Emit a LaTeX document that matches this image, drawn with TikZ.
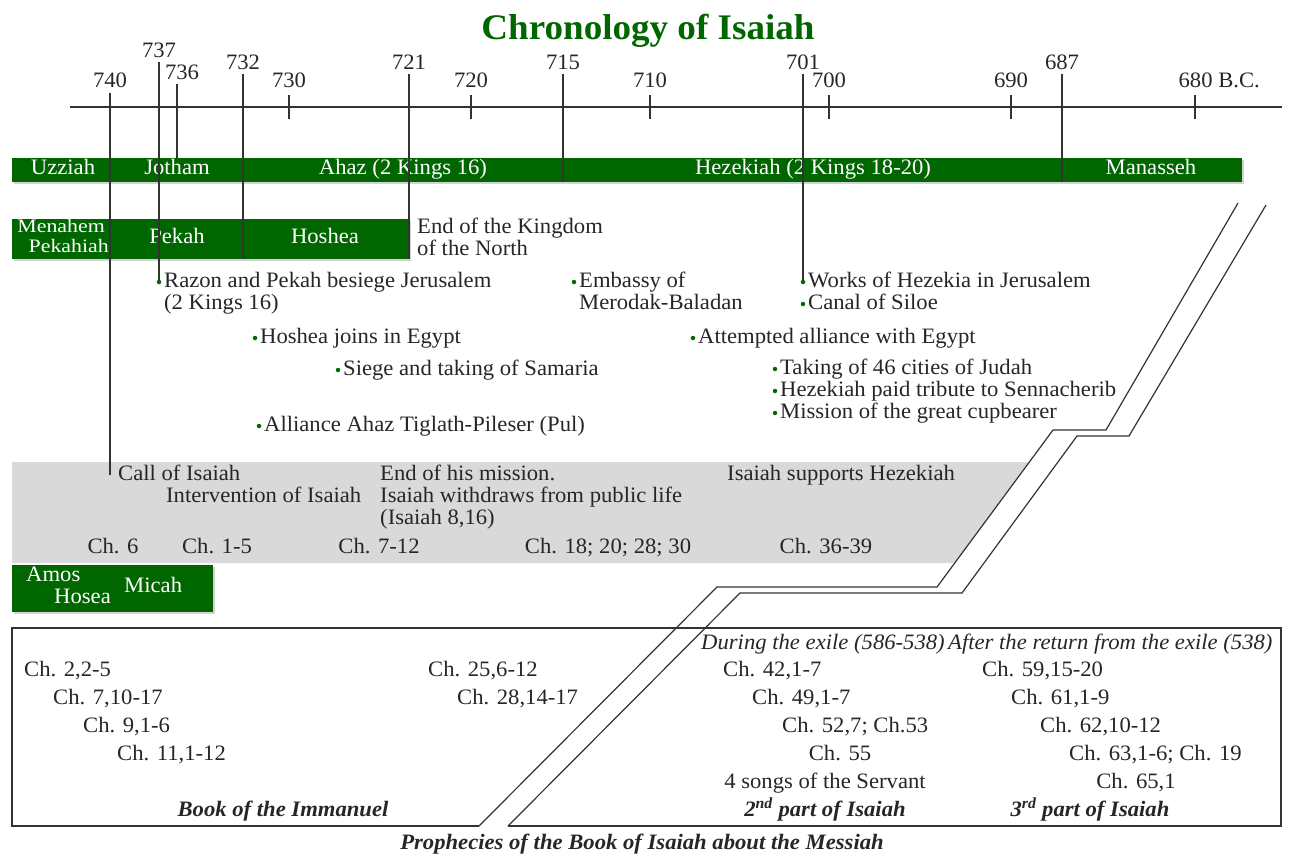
\documentclass[tikz,border=0pt]{standalone}
\usepackage{fontspec}
\setmainfont{Liberation Serif}[FakeStretch=1.03]
\newfontfamily\widefont{Liberation Serif}[FakeStretch=1.15]
\usetikzlibrary{positioning,shadows}

\definecolor{isagreen}{RGB}{0,102,0}
\definecolor{bandgray}{RGB}{217,217,217}
\newcommand\txtsize{\fontsize{22}{22}\selectfont}

\tikzset{
  txt/.style = {inner sep=0pt, text height=15pt, text depth=5pt, anchor=west},
  ctxt/.style = {txt, anchor=center},
  year/.style = {inner sep=0pt, text height=15pt, text depth=5pt},
  yline/.style = {line width=1.2pt, black!80},
  bar/.style = {fill=isagreen, inner sep=0pt, outer sep=0pt,
    drop shadow={shadow xshift=1.5pt, shadow yshift=-1.5pt, opacity=0.35}},
  reign/.style = {txt, anchor=center, text=white},
  tightreign/.style = {reign, font=\widefont\fontsize{19}{19}\selectfont, text height=12pt, text depth=3pt},
  dot/.style = {circle, fill=isagreen, inner sep=0pt, minimum size=4.5pt},
  event/.style = {txt, right=2.5pt of #1},
  nextline/.style = {txt, below=2pt of #1.south west, anchor=north west},
  partname/.style = {txt, anchor=center, font=\txtsize\bfseries\itshape},
  breakline/.style = {line width=1.2pt, black!80, line join=miter},
}

\begin{document}
\begin{tikzpicture}[x=1pt, y=-1pt, font=\txtsize, every node/.append style={text=black!85}]
  \useasboundingbox (0,0) rectangle (1292,857);

  \node[font=\fontsize{36}{38}\selectfont\bfseries, text=isagreen, anchor=base, inner sep=0pt]
    (title) at (648,39) {Chronology of Isaiah};

  % time axis
  \draw[yline] (70,107) -- (1282,107);
  \foreach \yr/\x in {740/110, 730/289, 720/471, 710/650, 700/829, 690/1011} {
    \draw[yline] (\x,95) -- (\x,119)
      node[year, pos=0, above=2pt] (y\yr) {\yr};
  }
  \draw[yline] (1195,95) -- (1195,119)
    node[year, pos=0, anchor=south west, xshift=-17pt, yshift=2pt] (y680) {680 B.C.};

  \foreach \yr/\x/\ly in {737/159/52, 732/243/64, 721/409/64, 715/563/64, 701/803/64, 687/1062/64} {
    \node[year] (y\yr) at (\x,\ly) {\yr};
  }
  \node[year] (y736) at (182,74) {736};
  \coordinate (l736) at ([xshift=-5pt]y736.south);

  % kings
  \node[bar, minimum width=1230pt, minimum height=24pt, anchor=north west] (kings) at (12,158) {};
  \node[bar, minimum width=397pt, minimum height=40pt, anchor=north west] (north) at (12,219) {};
  \node[bar, minimum width=201pt, minimum height=47pt, anchor=north west] (prophets) at (12,565) {};

  \node[reign] (uzziah) at (63,169) {Uzziah};
  \node[reign] (jotham) at (177,169) {Jotham};
  \node[reign] (ahaz) at (403,169) {Ahaz (2 Kings 16)};
  \node[reign] (hezekiah) at (813,169) {Hezekiah (2 Kings 18-20)};
  \node[reign] (manasseh) at (1151,169) {Manasseh};
  \node[tightreign, anchor=east] (menahem) at (105,228) {Menahem};
  \node[tightreign, anchor=east] (pekahiah) at (109,248) {Pekahiah};
  \node[reign] (pekah) at (177,238) {Pekah};
  \node[reign] (hoshea) at (325,238) {Hoshea};
  \node[reign, anchor=west] (amos) at (26,576) {Amos};
  \node[reign, anchor=west] (hosea) at (54,598) {Hosea};
  \node[reign, anchor=west] (micah) at (124,587) {Micah};

  \node[txt] (endnorth) at (417,228) {End of the Kingdom};
  \node[nextline=endnorth] (endnorth2) {of the North};

  % events
  \node[dot] (d-razon) at (159,282) {};
  \node[event=d-razon] (razon) {Razon and Pekah besiege Jerusalem};
  \node[nextline=razon] (razon2) {(2 Kings 16)};
  \node[dot] (d-embassy) at (574,282) {};
  \node[event=d-embassy] (embassy) {Embassy of};
  \node[nextline=embassy] (embassy2) {Merodak-Baladan};
  \node[dot] (d-works) at (803,282) {};
  \node[event=d-works] (works) {Works of Hezekia in Jerusalem};
  \node[dot] (d-canal) at (803,304) {};
  \node[event=d-canal] (canal) {Canal of Siloe};
  \node[dot] (d-joins) at (255,338) {};
  \node[event=d-joins] (joins) {Hoshea joins in Egypt};
  \node[dot] (d-siege) at (338,370) {};
  \node[event=d-siege] (siege) {Siege and taking of Samaria};
  \node[dot] (d-alliance) at (259,426) {};
  \node[event=d-alliance] (alliance) {Alliance Ahaz Tiglath-Pileser (Pul)};
  \node[dot] (d-egypt) at (693,338) {};
  \node[event=d-egypt] (egypt) {Attempted alliance with Egypt};
  \node[dot] (d-cities) at (775,369) {};
  \node[event=d-cities] (cities) {Taking of 46 cities of Judah};
  \node[dot] (d-tribute) at (775,391) {};
  \node[event=d-tribute] (tribute) {Hezekiah paid tribute to Sennacherib};
  \node[dot] (d-cupbearer) at (775,413) {};
  \node[event=d-cupbearer] (cupbearer) {Mission of the great cupbearer};

  % ministry of Isaiah
  \fill[bandgray] (12,462) -- (1029,462) -- (955,563) -- (12,563) -- cycle;
  \node[txt] (call) at (118,475) {Call of Isaiah};
  \node[txt] (interv) at (166,497) {Intervention of Isaiah};
  \node[txt] (endmission) at (380,475) {End of his mission.};
  \node[nextline=endmission] (withdraw) {Isaiah withdraws from public life};
  \node[nextline=withdraw] (isa816) {(Isaiah 8,16)};
  \node[txt] (supports) at (727,475) {Isaiah supports Hezekiah};
  \foreach \ch/\x [count=\i] in {{Ch. 6}/113, {Ch. 1-5}/217, {Ch. 7-12}/379, {Ch. 18; 20; 28; 30}/608, {Ch. 36-39}/826} {
    \node[ctxt] (ch\i) at (\x,548) {\ch};
  }

  % year lines
  \draw[yline] (y740.south) -- (y740.south |- call.west);
  \draw[yline] (y737.south) -- (d-razon);
  \draw[yline] (l736) -- (l736 |- kings.north);
  \draw[yline] (y732.south) -- (y732.south |- north.south);
  \draw[yline] (y721.south) -- (y721.south |- north.south);
  \draw[yline] (y715.south) -- (y715.south |- kings.south);
  \draw[yline] (y701.south) -- (d-works);
  \draw[yline] (y687.south) -- (y687.south |- kings.south);

  % break and prophecies box
  \draw[breakline] (1238,203) -- (1106,430) -- (1053,430) -- (937,587) -- (717,587) -- (479,826);
  \draw[breakline] (1266,205) -- (1129,436) -- (1077,436) -- (962,593) -- (740,593) -- (508,826);
  \draw[breakline] (479,826) -- (12,826) -- (12,628) -- (1281,628) -- (1281,826) -- (508,826);

  \foreach \ch/\x/\yy [count=\i] in {{Ch. 2,2-5}/24/671, {Ch. 7,10-17}/53/699, {Ch. 9,1-6}/83/727,
      {Ch. 11,1-12}/117/755, {Ch. 25,6-12}/428/671, {Ch. 28,14-17}/457/699} {
    \node[txt] (imm\i) at (\x,\yy) {\ch};
  }
  \node[partname] (immanuel) at (283,811) {Book of the Immanuel};

  \node[txt, font=\txtsize\itshape] (exile) at (701,644) {During the exile (586-538)};
  \foreach \ch/\x/\yy [count=\i] in {{Ch. 42,1-7}/723/671, {Ch. 49,1-7}/752/699, {Ch. 52,7; Ch.53}/782/727} {
    \node[txt] (sec\i) at (\x,\yy) {\ch};
  }
  \node[ctxt] (sec4) at (840,755) {Ch. 55};
  \node[ctxt] (songs) at (825,783) {4 songs of the Servant};
  \node[partname] (part2) at (825,811) {2\textsuperscript{nd} part of Isaiah};

  \node[txt, font=\txtsize\itshape] (return) at (948,644) {After the return from the exile (538)};
  \foreach \ch/\x/\yy [count=\i] in {{Ch. 59,15-20}/982/671, {Ch. 61,1-9}/1011/699,
      {Ch. 62,10-12}/1040/727, {Ch. 63,1-6; Ch. 19}/1069/755} {
    \node[txt] (thd\i) at (\x,\yy) {\ch};
  }
  \node[ctxt] (thd5) at (1136,783) {Ch. 65,1};
  \node[partname] (part3) at (1090,811) {3\textsuperscript{rd} part of Isaiah};

  \node[partname] (messiah) at (642,844) {Prophecies of the Book of Isaiah about the Messiah};

\end{tikzpicture}
\end{document}
